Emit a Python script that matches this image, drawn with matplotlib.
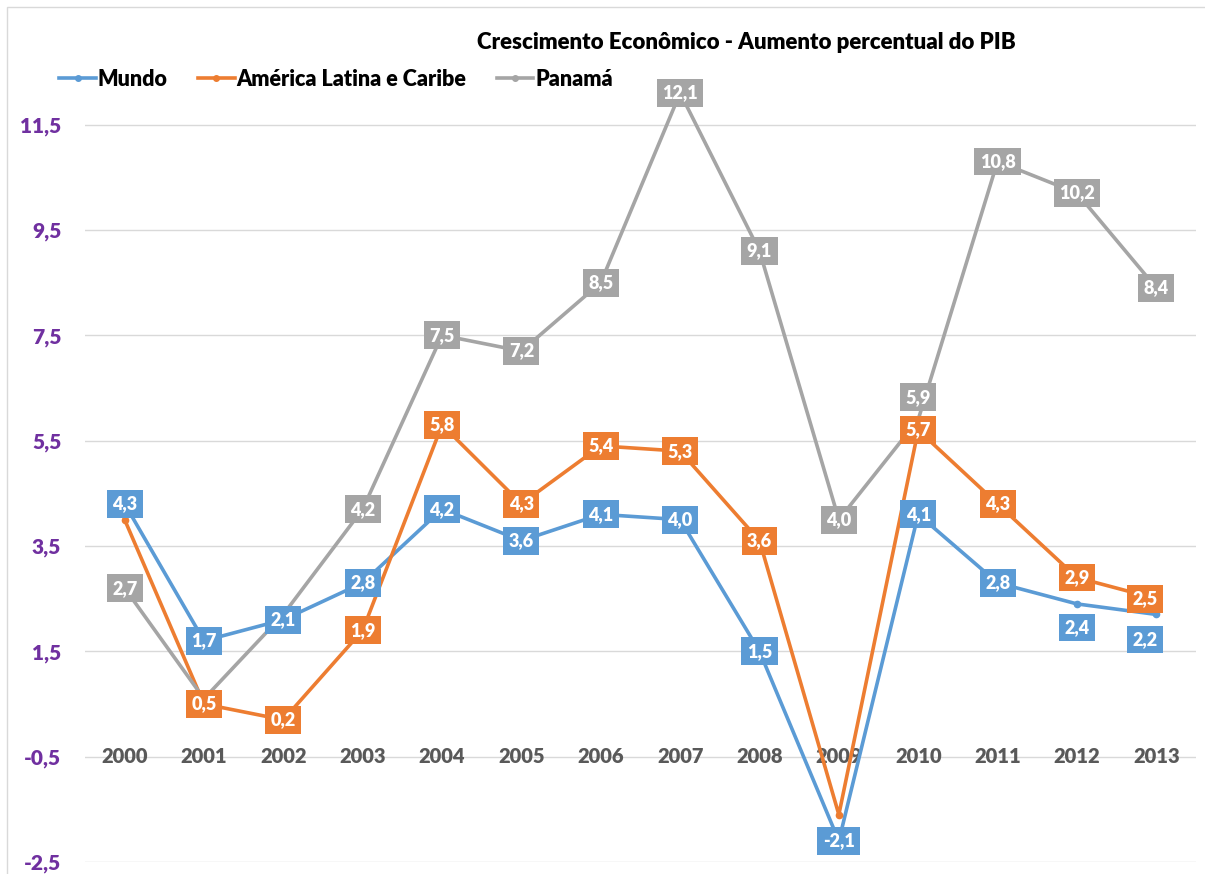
import matplotlib
matplotlib.use("Agg")
import matplotlib.pyplot as plt
from matplotlib.patches import Rectangle

plt.rcParams['font.family'] = ['Lato', 'DejaVu Sans']

years = ['2000', '2001', '2002', '2003', '2004', '2005', '2006',
         '2007', '2008', '2009', '2010', '2011', '2012', '2013']

mundo = [4.3, 1.7, 2.1, 2.8, 4.2, 3.6, 4.1, 4.0, 1.5, -2.1, 4.1, 2.8, 2.4, 2.2]
america_latina = [4.0, 0.5, 0.2, 1.9, 5.8, 4.3, 5.4, 5.3, 3.6, -1.6, 5.7, 4.3, 2.9, 2.5]
panama = [2.7, 0.6, 2.2, 4.2, 7.5, 7.2, 8.5, 12.1, 9.1, 4.0, 5.9, 10.8, 10.2, 8.4]

series_names = ['Mundo', 'América Latina e Caribe', 'Panamá']
colors = ['#5B9BD5', '#ED7D31', '#A5A5A5']

# labels not shown in the original (hidden behind other boxes)
hidden = {1: [0, 9], 2: [1, 2]}
# label offsets in points (dx, dy)
offsets = {(0, 12): (0, -17), (0, 13): (-8, -18), (1, 13): (-8, 0),
           (2, 10): (0, 16)}


def main():
    fig = plt.figure(figsize=(12.05, 8.74), dpi=100)
    ax = fig.add_axes([0.0705, 0.0137, 0.922, 0.892])

    x = list(range(len(years)))
    all_series = [mundo, america_latina, panama]

    for s in range(3):
        ax.plot(x, all_series[s], '-o', color=colors[s], lw=2.6, ms=4.5,
                label=series_names[s], zorder=3 + s, clip_on=False)

    # data labels, drawn on top of all lines
    for s in [2, 1, 0]:
        for i, v in enumerate(all_series[s]):
            if i in hidden.get(s, []):
                continue
            dx, dy = offsets.get((s, i), (0, 0))
            ax.annotate(('%.1f' % v).replace('.', ','), (i, v),
                        xytext=(dx, dy), textcoords='offset points',
                        ha='center', va='center', color='white',
                        fontsize=13, fontweight='heavy', zorder=10,
                        bbox=dict(boxstyle='square,pad=0.3', fc=colors[s],
                                  ec='none'))

    # year labels sit on the -0.5 line
    for i, y in enumerate(years):
        ax.text(i, -0.5, y, ha='center', va='center', fontsize=14.5,
                fontweight='heavy', color='#595959', zorder=2)

    yt = [-2.5, -0.5, 1.5, 3.5, 5.5, 7.5, 9.5, 11.5]
    ax.set_yticks(yt)
    ax.set_yticklabels([('%.1f' % t).replace('.', ',') for t in yt],
                       fontsize=15, fontweight='heavy', color='#7030A0')
    ax.tick_params(axis='y', length=0, pad=17)
    ax.set_xticks([])
    ax.set_xlim(-0.5, 13.5)
    ax.set_ylim(-2.5, 12.3)
    ax.grid(axis='y', color='#D9D9D9', lw=1)
    ax.set_axisbelow(True)
    for sp in ax.spines.values():
        sp.set_visible(False)

    fig.text(0.619, 0.951, 'Crescimento Econômico - Aumento percentual do PIB',
             ha='center', va='center', fontsize=16, fontweight='heavy')

    leg = fig.legend(loc='center left', bbox_to_anchor=(0.042, 0.909),
                     ncol=3, frameon=False, handlelength=1.7,
                     handletextpad=0.1, columnspacing=1.4, borderaxespad=0,
                     prop={'weight': 'heavy', 'size': 15.5})
    for h in leg.legend_handles:
        h.set_markersize(4)

    fig.patches.append(Rectangle((0.006, -0.01), 1.1, 1.002, transform=fig.transFigure,
                                 fill=False, ec='#D9D9D9', lw=1))

    fig.savefig('out.png', dpi=100)


if __name__ == "__main__":
    main()
